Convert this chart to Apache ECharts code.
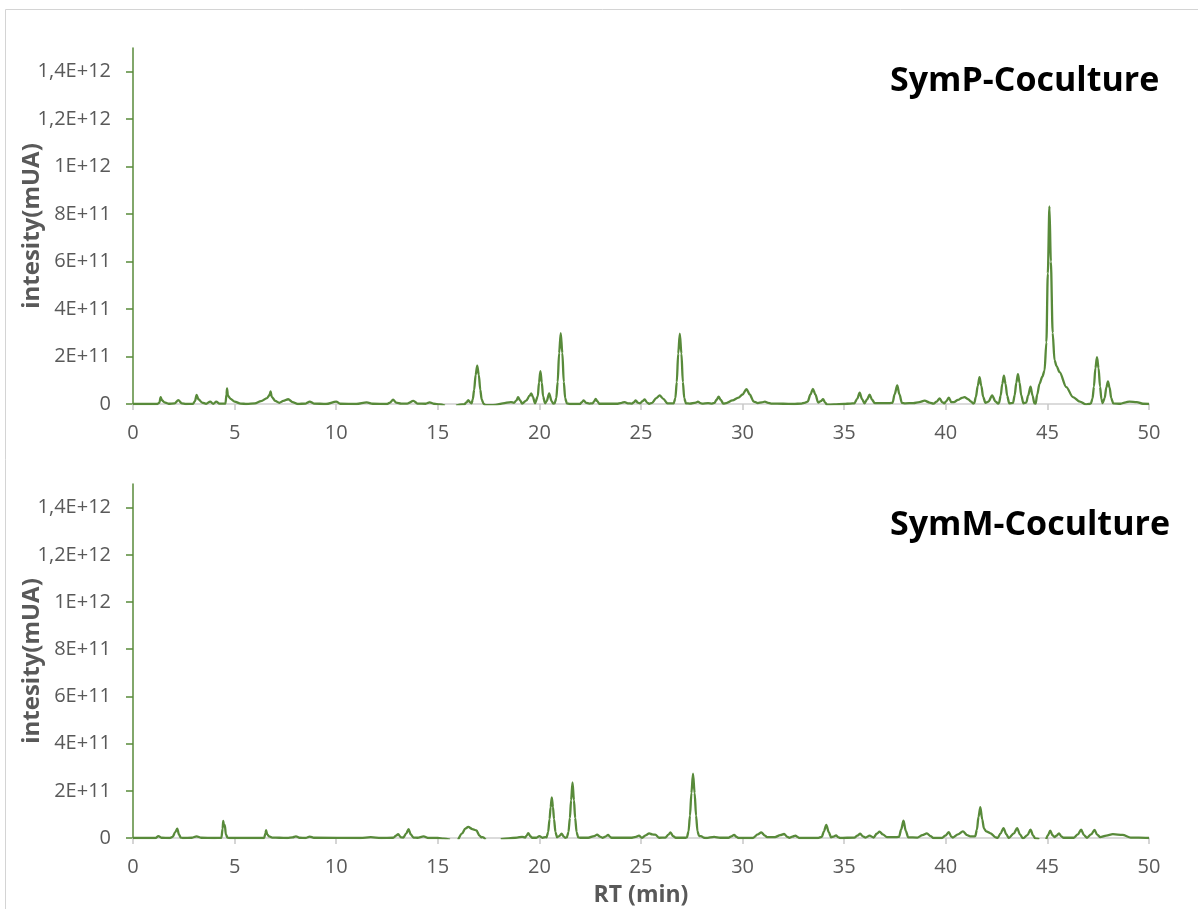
<!DOCTYPE html>
<html>
<head>
<meta charset="utf-8">
<title>Chromatograms</title>
<script src="https://cdn.jsdelivr.net/npm/echarts@6/dist/echarts.min.js"></script>
<style>
  html, body { margin: 0; padding: 0; background: #ffffff; }
  #chart { width: 1198px; height: 909px; }
</style>
</head>
<body>
<div id="chart"></div>
<script>
// Intensities are given in units of 1E+11 mUA; retention times in minutes.
// A null intensity marks a break in the recorded trace.
const UNIT = 1e11;

const panelTitles = ['SymP-Coculture', 'SymM-Coculture'];
const yTickValues = [0, 2e11, 4e11, 6e11, 8e11, 1e12, 1.2e12, 1.4e12];
const xTickValues = [0, 5, 10, 15, 20, 25, 30, 35, 40, 45, 50];

// SymP-Coculture trace: [RT, intensity / 1E+11]
const symP = [
  [0.0,0],[1.2,0],[1.3,0.06],[1.36,0.29],[1.42,0.16],[1.55,0.07],[1.75,0.01],[2.05,0.03],[2.23,0.16],[2.4,0.03],
  [2.6,0],[2.95,0.01],[3.05,0.12],[3.13,0.38],[3.22,0.2],[3.4,0.06],[3.6,0.01],[3.8,0.1],[3.95,0.01],[4.1,0.1],
  [4.25,0.02],[4.55,0.02],[4.6,0.4],[4.63,0.66],[4.67,0.35],[4.8,0.22],[5.0,0.1],[5.3,0.02],[5.6,0],[6.0,0.03],
  [6.3,0.12],[6.6,0.25],[6.72,0.38],[6.77,0.53],[6.83,0.3],[7.0,0.13],[7.2,0.05],[7.4,0.13],[7.64,0.2],[7.85,0.08],
  [8.1,0.0],[8.5,0.02],[8.7,0.1],[8.9,0.02],[9.5,0],[10.0,0.1],[10.2,0.01],[11.0,0],[11.5,0.07],[11.8,0.01],
  [12.5,0.0],[12.65,0.06],[12.8,0.18],[12.95,0.06],[13.2,0.02],[13.5,0.02],[13.8,0.13],[14.0,0.02],[14.4,0.01],[14.6,0.07],
  [14.8,0.01],[15.1,-0.02],[15.35,-0.07],[15.6,null],[15.9,-0.07],[16.2,-0.02],[16.3,-0.02],[16.42,0.08],[16.5,0.16],[16.58,0.08],
  [16.66,0.03],[16.72,0.19],[16.79,0.6],[16.86,1.22],[16.94,1.62],[17.02,1.22],[17.09,0.6],[17.16,0.19],[17.26,0.0],[17.35,-0.05],
  [17.6,-0.05],[17.85,-0.04],[18.2,0.03],[18.6,0.08],[18.75,0.05],[18.87,0.15],[18.95,0.29],[19.05,0.15],[19.15,0.02],[19.35,0.14],
  [19.52,0.35],[19.6,0.45],[19.68,0.3],[19.78,0.03],[19.92,0.32],[19.98,0.9],[20.05,1.38],[20.12,0.9],[20.18,0.32],[20.28,0.03],
  [20.36,0.12],[20.48,0.45],[20.6,0.12],[20.68,0.02],[20.75,0.03],[20.83,0.24],[20.9,0.93],[20.97,2.14],[21.05,2.99],[21.13,2.14],
  [21.2,0.93],[21.27,0.24],[21.35,0.03],[21.5,0.0],[22.0,0.0],[22.08,0.07],[22.18,0.15],[22.3,0.05],[22.45,0.02],[22.62,0.03],
  [22.7,0.12],[22.77,0.22],[22.85,0.12],[22.95,0.01],[23.8,0.01],[24.05,0.05],[24.2,0.08],[24.35,0.03],[24.55,0.02],[24.66,0.08],
  [24.74,0.15],[24.84,0.06],[24.95,0.03],[25.08,0.12],[25.18,0.19],[25.3,0.06],[25.4,0.01],[25.55,0.05],[25.75,0.25],[25.92,0.36],
  [26.1,0.22],[26.3,0.03],[26.61,0.03],[26.69,0.24],[26.76,0.92],[26.83,2.12],[26.91,2.96],[26.99,2.12],[27.06,0.92],[27.13,0.24],
  [27.21,0.03],[27.4,0.02],[27.7,0.06],[27.8,0.1],[27.9,0.05],[28.0,0.02],[28.3,0.04],[28.5,0.02],[28.62,0.05],[28.72,0.18],
  [28.82,0.31],[28.92,0.18],[29.05,0.02],[29.2,0.04],[29.5,0.15],[29.8,0.27],[30.0,0.4],[30.19,0.63],[30.35,0.4],[30.55,0.1],
  [30.75,0.04],[30.95,0.07],[31.1,0.1],[31.25,0.05],[31.4,0.02],[32.0,0.01],[32.5,0.0],[32.9,0.02],[33.05,0.05],[33.2,0.1],
  [33.34,0.4],[33.46,0.64],[33.58,0.4],[33.72,0.06],[33.85,0.12],[33.96,0.2],[34.07,0.06],[34.15,-0.03],[34.5,-0.02],[35.0,0.0],
  [35.3,0.02],[35.5,0.03],[35.64,0.22],[35.76,0.475],[35.88,0.2],[36.0,0.03],[36.13,0.2],[36.25,0.39],[36.37,0.18],[36.5,0.04],
  [37.0,0.04],[37.25,0.04],[37.38,0.05],[37.48,0.4],[37.61,0.78],[37.72,0.4],[37.84,0.05],[38.0,0.03],[38.4,0.04],[38.7,0.08],
  [38.96,0.14],[39.2,0.06],[39.4,0.02],[39.55,0.1],[39.7,0.24],[39.82,0.08],[39.92,0.03],[40.03,0.12],[40.15,0.27],[40.27,0.08],
  [40.4,0.08],[40.6,0.17],[40.8,0.26],[40.92,0.29],[41.1,0.2],[41.25,0.1],[41.35,0.02],[41.4,0.04],[41.48,0.3],[41.57,0.75],
  [41.66,1.13],[41.75,0.75],[41.84,0.3],[41.95,0.05],[42.1,0.1],[42.28,0.36],[42.45,0.1],[42.58,0.02],[42.62,0.05],[42.7,0.35],
  [42.78,0.85],[42.86,1.19],[42.94,0.85],[43.02,0.35],[43.12,0.03],[43.31,0.05],[43.39,0.37],[43.47,0.9],[43.55,1.26],[43.63,0.9],
  [43.71,0.37],[43.82,0.03],[43.96,0.06],[44.05,0.35],[44.17,0.73],[44.27,0.35],[44.36,0.03],[44.42,0.02],[44.5,0.4],[44.61,0.85],
  [44.75,1.15],[44.86,1.41],[44.95,2.6],[45.02,5.5],[45.1,8.33],[45.17,6.0],[45.26,3.0],[45.35,1.85],[45.45,1.6],[45.6,1.34],
  [45.93,0.71],[46.26,0.29],[46.6,0.1],[46.9,-0.02],[47.05,0.0],[47.14,0.03],[47.22,0.23],[47.29,0.73],[47.36,1.5],[47.44,1.97],
  [47.52,1.5],[47.59,0.73],[47.66,0.2],[47.72,0.04],[47.82,0.25],[47.9,0.7],[47.98,0.95],[48.06,0.7],[48.14,0.25],[48.24,0.03],
  [48.6,0.01],[48.85,0.07],[49.04,0.1],[49.4,0.08],[49.7,0.01],[50.0,0]
];

// SymM-Coculture trace: [RT, intensity / 1E+11]
const symM = [
  [0,0],[1.1,0],[1.25,0.08],[1.4,0.01],[1.8,0],[1.95,0.05],[2.08,0.25],[2.18,0.4],[2.26,0.15],[2.35,0.02],
  [2.45,0],[2.9,0.01],[3.13,0.07],[3.35,0.01],[4.0,0],[4.35,0.01],[4.41,0.4],[4.44,0.72],[4.48,0.5],[4.52,0.54],
  [4.57,0.15],[4.65,0.02],[4.8,0],[6.45,0],[6.52,0.2],[6.55,0.33],[6.6,0.16],[6.7,0.07],[6.85,0.02],[7.2,0.01],
  [7.6,0.0],[7.85,0.03],[8.02,0.07],[8.2,0.01],[8.5,0.0],[8.7,0.06],[8.9,0.01],[11.2,0.0],[11.7,0.04],[12.2,0.0],
  [12.8,0.01],[12.95,0.1],[13.05,0.16],[13.18,0.03],[13.3,0.02],[13.45,0.2],[13.56,0.37],[13.67,0.15],[13.8,0.02],[14.0,0.01],
  [14.3,0.07],[14.55,0.0],[15.0,0],[15.3,-0.03],[15.6,-0.07],[15.8,null],[16.0,-0.07],[16.2,0.2],[16.35,0.4],[16.5,0.47],
  [16.7,0.38],[16.9,0.32],[17.05,0.1],[17.15,0.03],[17.22,0.04],[17.35,-0.07],[17.7,null],[18.1,-0.05],[18.5,-0.02],[18.9,0.02],
  [19.15,0.05],[19.3,0.02],[19.37,0.1],[19.45,0.21],[19.55,0.08],[19.65,0.01],[19.85,0.01],[20.0,0.08],[20.15,0.01],[20.3,0.04],
  [20.35,0.03],[20.43,0.25],[20.5,0.8],[20.55,1.3],[20.61,1.72],[20.67,1.3],[20.72,0.8],[20.79,0.25],[20.87,0.03],[20.98,0.08],
  [21.09,0.18],[21.2,0.06],[21.28,0.01],[21.35,0.03],[21.43,0.25],[21.5,0.85],[21.56,1.6],[21.63,2.36],[21.7,1.6],[21.76,0.85],
  [21.83,0.25],[21.91,0.03],[22.0,0.01],[22.4,0.01],[22.7,0.08],[22.84,0.14],[22.98,0.06],[23.1,0.01],[23.25,0.06],[23.38,0.13],
  [23.48,0.05],[23.55,0.01],[24.5,0.01],[24.75,0.05],[24.9,0.1],[25.05,0.01],[25.25,0.12],[25.4,0.2],[25.55,0.15],[25.7,0.14],
  [25.9,0.01],[26.2,0.02],[26.35,0.14],[26.45,0.24],[26.58,0.08],[26.7,0.01],[27.2,0.01],[27.26,0.03],[27.34,0.28],[27.41,0.95],
  [27.48,1.9],[27.56,2.73],[27.64,1.9],[27.71,0.95],[27.78,0.28],[27.86,0.08],[27.95,0.08],[28.1,0.01],[28.2,0.0],[28.6,0.05],
  [28.9,0.01],[29.3,0.01],[29.45,0.07],[29.58,0.13],[29.7,0.05],[29.8,0.0],[30.5,0.0],[30.75,0.15],[30.92,0.24],[31.1,0.1],
  [31.2,0.04],[31.6,0.04],[31.85,0.12],[32.04,0.17],[32.2,0.05],[32.3,0.01],[32.45,0.06],[32.6,0.1],[32.72,0.04],[32.8,0.0],
  [33.7,0.0],[33.9,0.05],[34.0,0.28],[34.12,0.56],[34.24,0.25],[34.35,0.03],[34.48,0.06],[34.6,0.11],[34.7,0.04],[34.8,0.0],
  [35.5,0.02],[35.65,0.1],[35.79,0.18],[35.92,0.07],[36.05,0.02],[36.25,0.1],[36.45,0.02],[36.6,0.18],[36.74,0.27],[36.9,0.15],
  [37.1,0.04],[37.6,0.04],[37.7,0.05],[37.8,0.35],[37.92,0.73],[38.03,0.3],[38.15,0.03],[38.6,0.02],[38.85,0.12],[39.07,0.2],
  [39.25,0.08],[39.4,0.0],[39.8,0.0],[39.98,0.1],[40.15,0.25],[40.27,0.06],[40.35,0.02],[40.6,0.15],[40.84,0.28],[41.05,0.12],
  [41.2,0.07],[41.4,0.07],[41.45,0.08],[41.53,0.35],[41.61,0.9],[41.7,1.31],[41.79,0.8],[41.88,0.4],[41.99,0.28],[42.2,0.2],
  [42.45,0.03],[42.55,0.0],[42.7,0.2],[42.84,0.42],[42.98,0.15],[43.1,0.0],[43.35,0.2],[43.51,0.42],[43.65,0.15],[43.8,-0.02],
  [44.02,0.12],[44.17,0.35],[44.3,0.1],[44.4,-0.02],[44.6,-0.05],[44.78,null],[44.94,-0.05],[45.03,0.12],[45.14,0.31],[45.25,0.12],
  [45.35,0.04],[45.45,0.1],[45.57,0.2],[45.68,0.07],[45.8,0.01],[46.3,0.01],[46.5,0.15],[46.66,0.35],[46.8,0.12],[46.95,0.01],
  [47.15,0.15],[47.32,0.34],[47.45,0.14],[47.6,0.04],[47.9,0.1],[48.22,0.16],[48.7,0.13],[49.1,0.02],[49.5,0.02],[50,0]
];

const traces = [symP, symM];

const GREEN = '#588a3a';
const LABEL_GREY = '#595959';
const FONT = '"Open Sans", "DejaVu Sans", sans-serif';

// Excel-style scientific labels with a decimal comma: 1,2E+12
function sciLabel(v) {
  if (v === 0) return '0';
  const e = Math.floor(Math.log10(v) + 1e-9);
  const m = Math.round(v / Math.pow(10, e) * 10) / 10;
  return String(m).replace('.', ',') + 'E+' + e;
}

const grids = [
  { left: 133, top: 48, width: 1016, height: 356 },
  { left: 133, top: 484, width: 1016, height: 354 }
];

const xAxes = grids.map((g, i) => ({
  type: 'value',
  gridIndex: i,
  min: 0,
  max: 50,
  interval: 5,
  name: i === 1 ? 'RT (min)' : '',
  nameLocation: 'middle',
  nameGap: 46,
  nameMoveOverlap: false,
  nameTextStyle: { fontFamily: FONT, fontSize: 23, fontWeight: 'bold', color: LABEL_GREY },
  axisLine: { show: true, onZero: false, lineStyle: { color: '#d0d0d0', width: 1.5 } },
  axisTick: { show: true, length: 6, lineStyle: { color: '#c8c8c8', width: 1.5 } },
  axisLabel: {
    fontFamily: FONT, fontSize: 20, color: LABEL_GREY, margin: 19,
    customValues: xTickValues
  },
  splitLine: { show: false }
}));

const yAxes = grids.map((g, i) => ({
  type: 'value',
  gridIndex: i,
  min: 0,
  max: 1.5e12,
  name: 'intesity(mUA)',
  nameLocation: 'middle',
  nameGap: 89,
  nameMoveOverlap: false,
  nameTextStyle: { fontFamily: FONT, fontSize: 24, fontWeight: 'bold', color: LABEL_GREY },
  axisLine: { show: true, lineStyle: { color: GREEN, width: 1.5 } },
  axisTick: { show: true, length: 7, lineStyle: { color: GREEN, width: 1.5 }, customValues: yTickValues },
  axisLabel: {
    fontFamily: FONT, fontSize: 20, color: LABEL_GREY, margin: 22,
    customValues: yTickValues,
    formatter: sciLabel
  },
  splitLine: { show: false }
}));

const series = traces.map((trace, i) => ({
  type: 'line',
  xAxisIndex: i,
  yAxisIndex: i,
  data: trace.map(([rt, v]) => [rt, v === null ? null : v * UNIT]),
  showSymbol: false,
  smooth: 0.3,
  smoothMonotone: 'x',
  connectNulls: false,
  lineStyle: { color: GREEN, width: 2.3 },
  itemStyle: { color: GREEN },
  animation: false
}));

const chart = echarts.init(document.getElementById('chart'), null, { renderer: 'canvas' });
chart.setOption({
  backgroundColor: '#ffffff',
  animation: false,
  title: [
    { text: panelTitles[0], left: 885, top: 59,
      textStyle: { fontFamily: FONT, fontSize: 34, fontWeight: 'bold', color: '#000000' } },
    { text: panelTitles[1], left: 885, top: 503,
      textStyle: { fontFamily: FONT, fontSize: 34, fontWeight: 'bold', color: '#000000' } }
  ],
  graphic: [
    { type: 'rect', silent: true, z: -10,
      shape: { x: 5.5, y: 9.5, width: 1200, height: 1000 },
      style: { fill: 'none', stroke: '#d4d4d4', lineWidth: 1 } }
  ],
  grid: grids,
  xAxis: xAxes,
  yAxis: yAxes,
  series: series
});
</script>
</body>
</html>
